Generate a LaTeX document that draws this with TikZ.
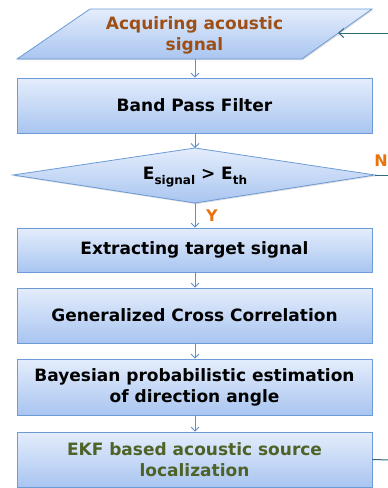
\documentclass[tikz,border=0pt]{standalone}
\usepackage{fontspec}
\setmainfont{DejaVu Sans}
\usetikzlibrary{arrows.meta,shadows}
\definecolor{boxtop}{HTML}{E4EDFC}
\definecolor{boxbot}{HTML}{A9C5F0}
\definecolor{boxdraw}{HTML}{6C9BD6}
\definecolor{arrowblue}{HTML}{5B8FD0}
\definecolor{loopcol}{HTML}{2F6E78}
\definecolor{acqcol}{HTML}{9E4F16}
\definecolor{ekfcol}{HTML}{4F6228}
\definecolor{ynorange}{HTML}{E8720C}
\tikzset{
  flowshape/.style={draw=boxdraw, line width=0.8pt, top color=boxtop, bottom color=boxbot,
    drop shadow={opacity=0.25, shadow xshift=1pt, shadow yshift=-1.2pt}},
  flowbox/.style={flowshape, rectangle, minimum width=355pt, inner sep=2pt,
    font=\fontsize{17}{21}\selectfont\bfseries, align=center},
  flowtext/.style={font=\fontsize{17}{21}\selectfont\bfseries, align=center, inner sep=0pt},
  arr/.style={draw=arrowblue, line width=0.8pt, -{Straight Barb[length=4pt,width=8pt]}},
  loopline/.style={draw=loopcol, line width=1pt},
  yn/.style={text=ynorange, font=\fontsize{16}{16}\selectfont\bfseries, inner sep=0pt}
}
\begin{document}
\begin{tikzpicture}[x=1pt,y=-1pt]
\useasboundingbox (0,0) rectangle (388,488);
% parallelogram
\path[flowshape] (90,9) -- (372,9) -- (302,59) -- (17,59) -- cycle;
\node[flowtext, text=acqcol] (acq) at (194.5,35) {Acquiring acoustic\\signal};
\coordinate (acqB) at (195,59);
\coordinate (acqR) at (338,33);
% boxes
\node[flowbox, minimum height=55pt] (bpf) at (194.5,105.5) {Band Pass Filter};
% diamond
\path[flowshape] (13,175) -- (195,148) -- (375,175) -- (195,203) -- cycle;
\node[flowtext] (dec) at (195,177) {E\raisebox{-4.5pt}{\fontsize{12}{12}\selectfont signal} > E\raisebox{-4.5pt}{\fontsize{12}{12}\selectfont th}};
\coordinate (decT) at (195,148);
\coordinate (decB) at (195,203);
\coordinate (decR) at (375,175);
\node[flowbox, minimum height=44pt] (ext) at (194.5,250) {Extracting target signal};
\node[flowbox, minimum height=55pt] (gcc) at (194.5,315.5) {Generalized Cross Correlation};
\node[flowbox, minimum height=56pt] (bay) at (194.5,387) {Bayesian probabilistic estimation\\of direction angle};
\node[flowbox, minimum height=55pt, text=ekfcol] (ekf) at (194.5,459.5) {EKF based acoustic source\\localization};
% arrows
\draw[arr] (acqB) -- (acqB |- bpf.north);
\draw[arr] (bpf.south -| decT) -- (decT);
\draw[arr] (decB) -- (decB |- ext.north);
\draw[arr] (ext.south -| decT) -- (decT |- gcc.north);
\draw[arr] (gcc.south -| decT) -- (decT |- bay.north);
\draw[arr] (bay.south -| decT) -- (decT |- ekf.north);
\node[yn] (ylab) at (212,216) {Y};
\node[yn] (nlab) at (381,161) {N};
% loop back
\coordinate (nEnd) at (390,175);
\coordinate (ekfEnd) at (390,460);
\coordinate (inEnd) at (390,33);
\draw[loopline] (decR) -- (nEnd);
\draw[loopline] (ekf.east) -- (ekfEnd);
\draw[loopline, -{Straight Barb[length=5pt,width=9pt]}] (inEnd) -- (acqR);
\end{tikzpicture}
\end{document}
